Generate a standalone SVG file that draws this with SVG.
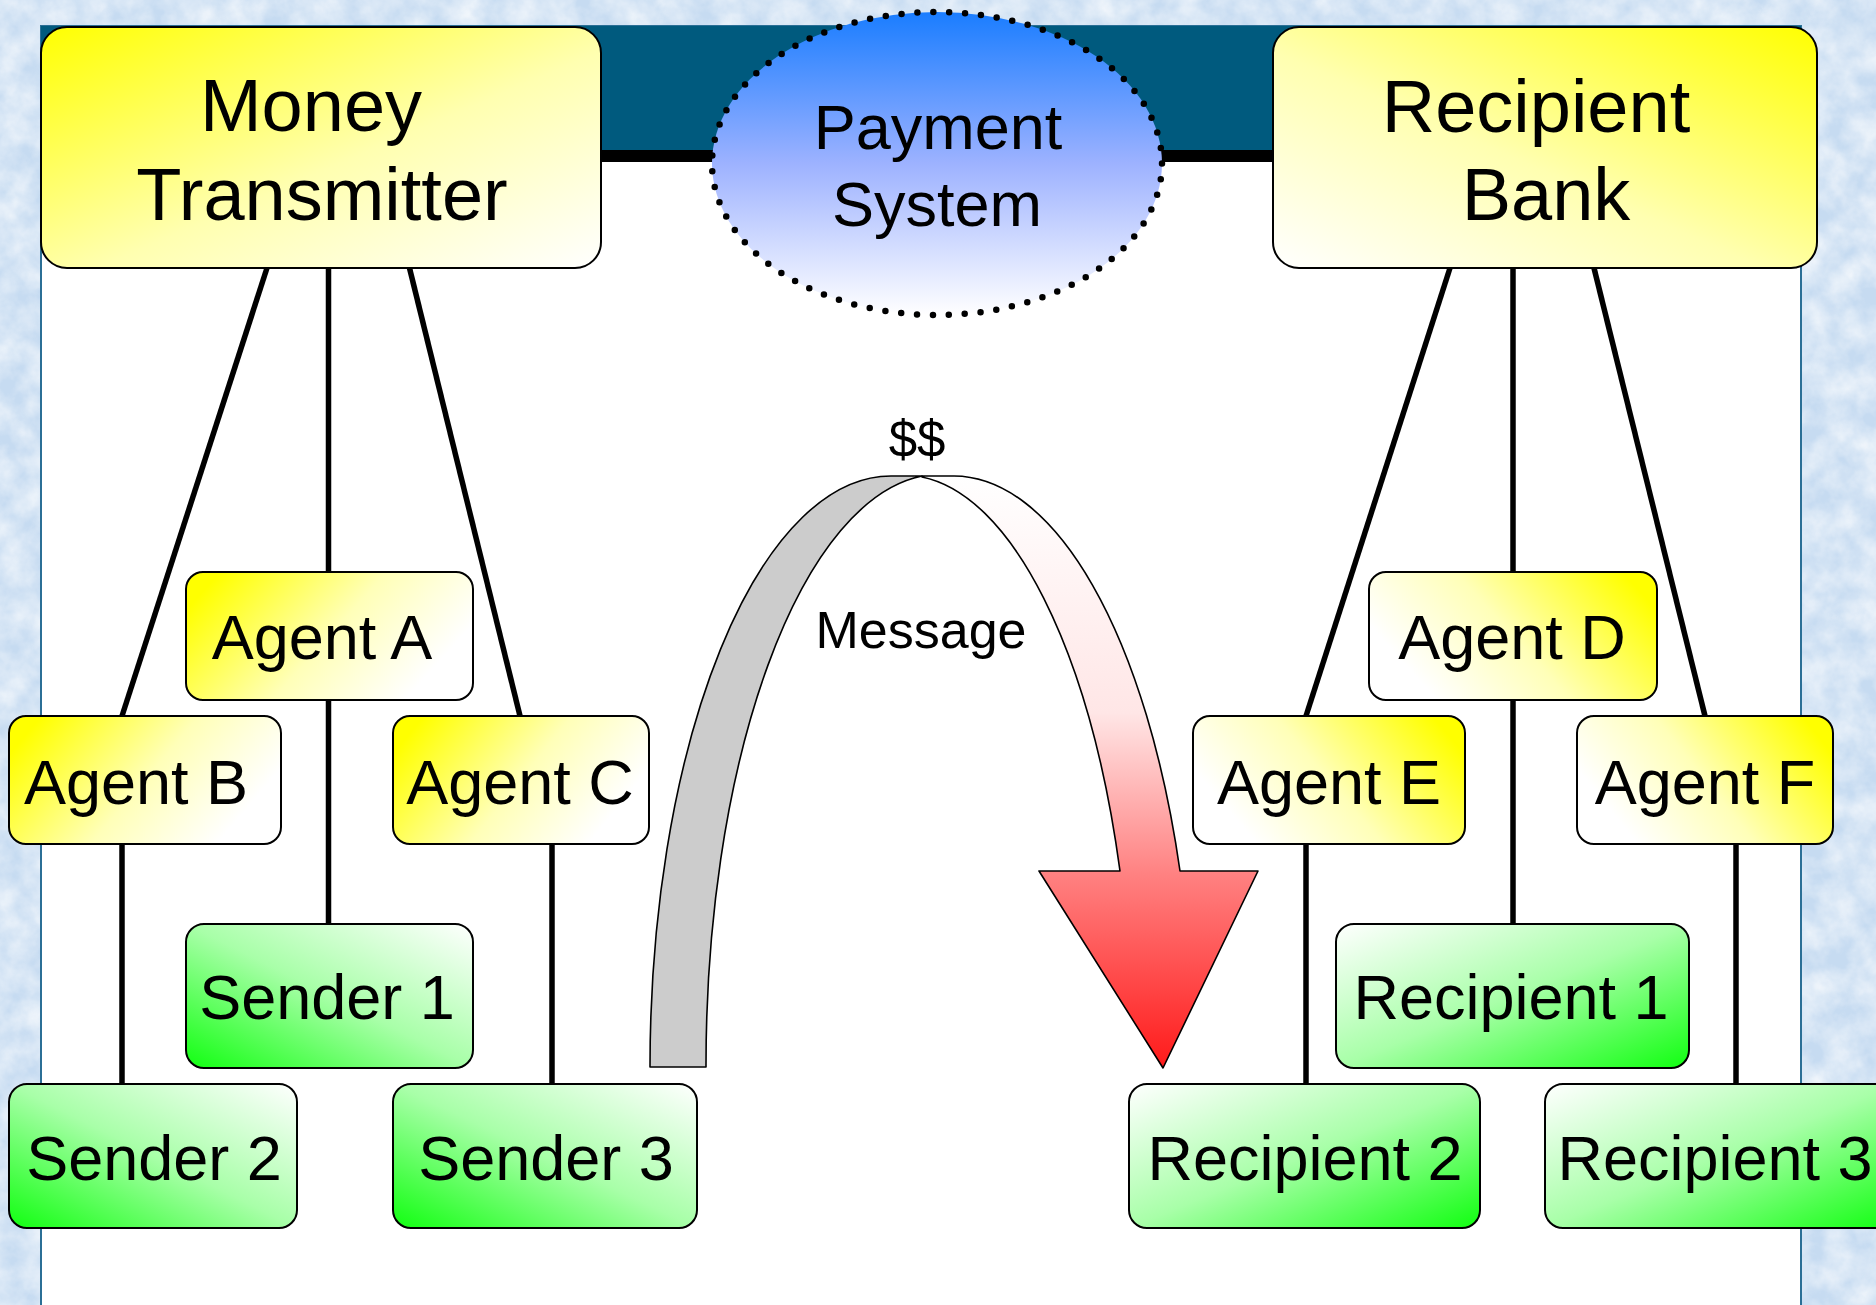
<svg xmlns="http://www.w3.org/2000/svg" width="1876" height="1305" viewBox="0 0 1876 1305">
<defs>
<style>
text{font-family:"Liberation Sans",Arial,sans-serif;fill:#000;text-anchor:middle}
.big{font-size:74px}
.mid{font-size:63px}
.box{stroke:#000;stroke-width:2}
.conn line{stroke:#000;stroke-width:5.5}
</style>
<filter id="tex" x="0" y="0" width="100%" height="100%">
<feTurbulence type="fractalNoise" baseFrequency="0.035" numOctaves="4" seed="7"/>
<feColorMatrix type="matrix" values="0 0 0 0 1  0 0 0 0 1  0 0 0 0 1  1.4 0 0 0 -0.35"/>
</filter>
<linearGradient id="yL" x1="0" y1="0" x2="1" y2="1"><stop offset="0" stop-color="#ffff00"/><stop offset="0.55" stop-color="#ffffb0"/><stop offset="1" stop-color="#ffffff"/></linearGradient>
<linearGradient id="yR" x1="1" y1="0" x2="0" y2="1"><stop offset="0" stop-color="#ffff00"/><stop offset="0.55" stop-color="#ffffb0"/><stop offset="1" stop-color="#ffffff"/></linearGradient>
<linearGradient id="yAL" x1="0" y1="0.3" x2="1" y2="0.7"><stop offset="0" stop-color="#ffff00"/><stop offset="0.5" stop-color="#ffffb8"/><stop offset="0.9" stop-color="#ffffff"/></linearGradient>
<linearGradient id="yAR" x1="1" y1="0.3" x2="0" y2="0.7"><stop offset="0" stop-color="#ffff00"/><stop offset="0.5" stop-color="#ffffb8"/><stop offset="0.9" stop-color="#ffffff"/></linearGradient>
<linearGradient id="gS" x1="0" y1="1" x2="1" y2="0"><stop offset="0" stop-color="#11ff11"/><stop offset="0.5" stop-color="#a8ffa8"/><stop offset="1" stop-color="#ffffff"/></linearGradient>
<linearGradient id="gR" x1="1" y1="1" x2="0" y2="0"><stop offset="0" stop-color="#11ff11"/><stop offset="0.5" stop-color="#a8ffa8"/><stop offset="1" stop-color="#ffffff"/></linearGradient>
<linearGradient id="blue" x1="0" y1="0" x2="0" y2="1"><stop offset="0" stop-color="#1a7dff"/><stop offset="0.5" stop-color="#9db2ff"/><stop offset="1" stop-color="#ffffff"/></linearGradient>
<linearGradient id="red" gradientUnits="userSpaceOnUse" x1="0" y1="476" x2="0" y2="1068"><stop offset="0" stop-color="#ffffff"/><stop offset="0.4" stop-color="#ffe6e6"/><stop offset="0.67" stop-color="#ff8282"/><stop offset="1" stop-color="#ff1a1a"/></linearGradient>
</defs>

<rect x="0" y="0" width="1876" height="1305" fill="#c6dbf1"/>
<rect x="0" y="0" width="1876" height="1305" filter="url(#tex)" opacity="0.8"/>
<rect x="41" y="26" width="1760" height="1290" fill="#ffffff" stroke="#2b6f96" stroke-width="2"/>
<rect x="41" y="26" width="1760" height="124" fill="#005a7e"/>
<line x1="601" y1="156" x2="1273" y2="156" stroke="#000" stroke-width="12"/>

<g id="connectors" class="conn">
<line x1="267" y1="268" x2="122" y2="716"/>
<line x1="328.5" y1="268" x2="328.5" y2="572"/>
<line x1="409.5" y1="268" x2="520" y2="716"/>
<line x1="328.5" y1="700" x2="328.5" y2="924"/>
<line x1="122" y1="844" x2="122" y2="1084"/>
<line x1="552" y1="844" x2="552" y2="1084"/>
<line x1="1450" y1="268" x2="1306" y2="716"/>
<line x1="1513" y1="268" x2="1513" y2="572"/>
<line x1="1594" y1="268" x2="1705" y2="716"/>
<line x1="1513" y1="700" x2="1513" y2="924"/>
<line x1="1306" y1="844" x2="1306" y2="1084"/>
<line x1="1736" y1="844" x2="1736" y2="1084"/>
</g>

<g id="payment-system">
<ellipse cx="937" cy="163.5" rx="225" ry="151.5" fill="url(#blue)" stroke="#000" stroke-width="6.5" stroke-linecap="round" stroke-dasharray="0 15.92"/>
<text x="938" y="149" style="font-size:63px">Payment</text>
<text x="937" y="226" style="font-size:63px">System</text>
</g>

<g id="money-transmitter">
<rect class="box" x="41" y="27" width="560" height="241" rx="26" fill="url(#yL)"/>
<text class="big" x="311" y="131">Money</text>
<text class="big" x="322" y="220">Transmitter</text>
</g>
<g id="recipient-bank">
<rect class="box" x="1273" y="27" width="544" height="241" rx="26" fill="url(#yR)"/>
<text class="big" x="1536" y="132">Recipient</text>
<text class="big" x="1546" y="220">Bank</text>
</g>

<g id="agent-a"><rect class="box" x="186" y="572" width="287" height="128" rx="17" fill="url(#yAL)"/><text class="mid" x="322" y="659">Agent A</text></g>
<g id="agent-b"><rect class="box" x="9" y="716" width="272" height="128" rx="17" fill="url(#yAL)"/><text class="mid" x="136" y="804">Agent B</text></g>
<g id="agent-c"><rect class="box" x="393" y="716" width="256" height="128" rx="17" fill="url(#yAL)"/><text class="mid" x="520" y="804">Agent C</text></g>
<g id="agent-d"><rect class="box" x="1369" y="572" width="288" height="128" rx="17" fill="url(#yAR)"/><text class="mid" x="1512" y="659">Agent D</text></g>
<g id="agent-e"><rect class="box" x="1193" y="716" width="272" height="128" rx="17" fill="url(#yAR)"/><text class="mid" x="1329" y="804">Agent E</text></g>
<g id="agent-f"><rect class="box" x="1577" y="716" width="256" height="128" rx="17" fill="url(#yAR)"/><text class="mid" x="1705" y="804">Agent F</text></g>

<g id="sender-1"><rect class="box" x="186" y="924" width="287" height="144" rx="18" fill="url(#gS)"/><text class="mid" x="327" y="1019">Sender 1</text></g>
<g id="sender-2"><rect class="box" x="9" y="1084" width="288" height="144" rx="18" fill="url(#gS)"/><text class="mid" x="154" y="1180">Sender 2</text></g>
<g id="sender-3"><rect class="box" x="393" y="1084" width="304" height="144" rx="18" fill="url(#gS)"/><text class="mid" x="546" y="1180">Sender 3</text></g>
<g id="recipient-1"><rect class="box" x="1336" y="924" width="353" height="144" rx="18" fill="url(#gR)"/><text class="mid" x="1511" y="1019">Recipient 1</text></g>
<g id="recipient-2"><rect class="box" x="1129" y="1084" width="351" height="144" rx="18" fill="url(#gR)"/><text class="mid" x="1305" y="1180">Recipient 2</text></g>
<g id="recipient-3"><rect class="box" x="1545" y="1084" width="351" height="144" rx="18" fill="url(#gR)"/><text class="mid" x="1715" y="1180">Recipient 3</text></g>

<g id="message-arrow">
<path d="M650,1067 A241,591 0 0 1 891,476 L922,476 A235,591 0 0 0 706,1067 Z" fill="#cccccc" stroke="#000" stroke-width="1.6" stroke-linejoin="round"/>
<path d="M922,477 L922,476 L954,476 A240,591 0 0 1 1180,871 L1258,871 L1163,1068 L1039,871 L1120,871 A229,591 0 0 0 922,477 Z" fill="url(#red)" stroke="#000" stroke-width="1.6" stroke-linejoin="round"/>
<text x="917" y="457" style="font-size:51px">$$</text>
<text x="921" y="648" style="font-size:52px">Message</text>
</g>
</svg>
